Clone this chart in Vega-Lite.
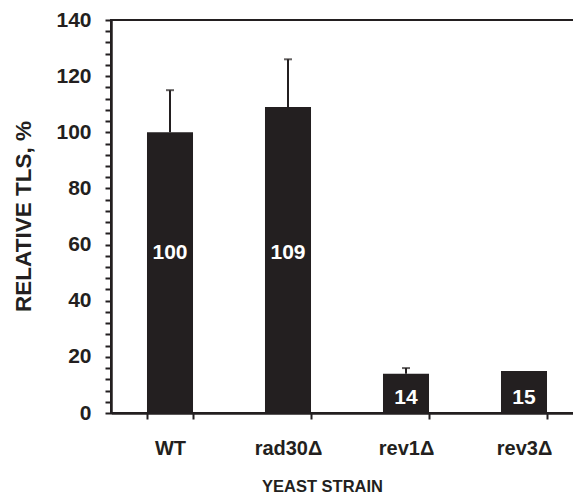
{
  "$schema": "https://vega.github.io/schema/vega-lite/v6.json",
  "width": 472,
  "height": 393,
  "autosize": {"type": "none"},
  "padding": {"left": 111, "top": 20, "right": 0, "bottom": 81},
  "background": "white",
  "config": {
    "view": {"stroke": "#231f20", "strokeWidth": 2},
    "font": "Liberation Sans",
    "axis": {"grid": false, "labelColor": "#231f20", "titleColor": "#231f20", "labelFont": "Liberation Sans", "titleFont": "Liberation Sans", "labelFontWeight": "bold", "titleFontWeight": "bold"}
  },
  "data": {
    "values": [
      {"strain": "WT", "value": 100, "upper": 115, "label": "100"},
      {"strain": "rad30Δ", "value": 109, "upper": 126, "label": "109"},
      {"strain": "rev1Δ", "value": 14, "upper": 16, "label": "14"},
      {"strain": "rev3Δ", "value": 15, "upper": null, "label": "15"}
    ]
  },
  "encoding": {
    "x": {
      "field": "strain", "type": "nominal", "sort": null,
      "scale": {"paddingInner": 0.61, "paddingOuter": 0.305},
      "axis": {"title": "YEAST STRAIN", "labelAngle": 0, "labelFontSize": 20, "titleFontSize": 16.5, "ticks": true, "domain": true, "tickColor": "#231f20", "domainColor": "#231f20", "tickOpacity": 1, "domainOpacity": 1, "tickWidth": 2, "domainWidth": 2.5, "zindex": 1, "tickBand": "extent", "tickSize": 6, "labelPadding": 19, "titleX": 211, "titleY": 73, "titleBaseline": "middle", "titleAlign": "center"}
    },
    "y": {
      "field": "value", "type": "quantitative",
      "scale": {"domain": [0, 140], "nice": false},
      "axis": {"title": "RELATIVE TLS, %", "values": [0,4,8,12,16,20,24,28,32,36,40,44,48,52,56,60,64,68,72,76,80,84,88,92,96,100,104,108,112,116,120,124,128,132,136,140], "labelExpr": "datum.value % 20 === 0 ? datum.label : ''", "labelOverlap": false, "labelFontSize": 21, "titleFontSize": 22.5, "ticks": true, "domain": true, "tickColor": "#231f20", "domainColor": "#231f20", "tickOpacity": 1, "domainOpacity": 1, "tickWidth": 2, "domainWidth": 2.5, "zindex": 1, "tickSize": 6, "labelPadding": 14, "titleX": -88, "titleY": 196, "titleAlign": "center", "titleBaseline": "middle"}
    }
  },
  "layer": [
    {
      "mark": {"type": "bar", "color": "#231f20"}
    },
    {
      "transform": [{"filter": "datum.upper != null"}],
      "mark": {"type": "rule", "color": "#231f20", "strokeWidth": 2},
      "encoding": {"y2": {"field": "upper"}}
    },
    {
      "transform": [{"filter": "datum.upper != null"}],
      "mark": {"type": "tick", "color": "#231f20", "size": 8, "thickness": 2, "orient": "horizontal"},
      "encoding": {"y": {"field": "upper", "type": "quantitative"}}
    },
    {
      "transform": [{"filter": "datum.value > 50"}],
      "mark": {"type": "text", "color": "white", "fontWeight": "bold", "fontSize": 21, "baseline": "middle", "font": "Liberation Sans"},
      "encoding": {"y": {"datum": 57}, "text": {"field": "label"}}
    },
    {
      "transform": [{"filter": "datum.value < 50"}],
      "mark": {"type": "text", "color": "white", "fontWeight": "bold", "fontSize": 21, "baseline": "middle", "font": "Liberation Sans"},
      "encoding": {"y": {"datum": 5.3}, "text": {"field": "label"}}
    }
  ]
}
